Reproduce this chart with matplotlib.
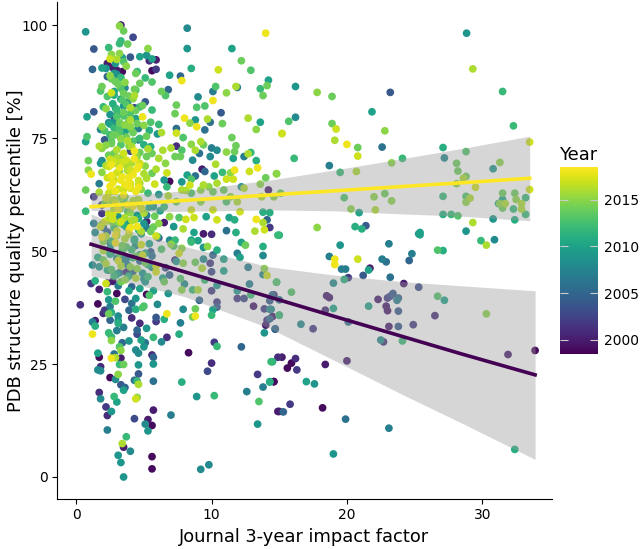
import numpy as np
import matplotlib
matplotlib.use('Agg')
import matplotlib.pyplot as plt
from matplotlib.cm import ScalarMappable
from matplotlib.colors import Normalize

impact = [
    28.84, 29.3, 31.5, 23.2, 17.8, 18.9, 16.2, 21.85, 16.2, 15.7,
    18.9, 19.2, 22.8, 15.2, 32.3, 19.1, 20.0, 20.8, 22.6, 20.8,
    27.1, 28.8, 33.5, 27.2, 16.1, 24.1, 18.7, 28.1, 31.3, 30.8,
    23.3, 19.5, 20.7, 14.8, 28.2, 28.8, 28.6, 28.1, 29.5, 33.5,
    31.5, 32.4, 22.8, 22.0, 19.8, 27.1, 28.8, 29.1, 28.8, 33.2,
    32.5, 31.5, 23.3, 31.2, 31.3, 31.7, 32.9, 31.5, 32.3, 32.9,
    20.3, 22.1, 20.9, 27.1, 27.7, 28.2, 33.2, 30.8, 32.4, 29.3,
    17.8, 20.6, 21.4, 21.1, 25.3, 25.4, 25.4, 28.8, 29.9, 30.9,
    30.3, 15.0, 19.5, 23.1, 26.7, 27.1, 18.7, 19.1, 19.1, 20.8,
    22.6, 22.9, 24.8, 24.6, 19.6, 19.9, 21.7, 21.6, 21.2, 20.1,
    19.8, 23.2, 19.0, 14.8, 24.2, 25.3, 15.9, 26.7, 27.2, 18.5,
    18.7, 22.3, 23.0, 23.4, 23.2, 23.8, 23.7, 14.5, 15.0, 21.6,
    19.0, 22.9, 23.0, 23.8, 26.5, 30.3, 18.4, 15.0, 14.4, 14.5,
    16.6, 17.5, 14.7, 20.1, 23.1, 23.8, 24.9, 24.1, 22.5, 22.7,
    31.9, 33.9, 20.0, 15.2, 16.2, 15.9, 15.6, 16.3, 18.4, 14.5,
    14.6, 14.3, 17.0, 17.6, 15.8, 15.0, 15.3, 18.2, 19.9, 23.1,
    19.0, 32.4, 0.3, 1.6, 1.1, 1.4, 2.2, 1.7, 2.3, 3.0,
    3.9, 3.3, 2.7, 4.7, 5.4, 5.2, 5.7, 6.8, 6.0, 4.4,
    4.1, 3.6, 2.4, 2.9, 2.5, 2.1, 2.0, 2.4, 2.6, 3.1,
    3.9, 4.4, 4.9, 5.0, 7.9, 8.8, 10.1, 10.4, 6.7, 6.5,
    5.9, 5.9, 7.7, 8.8, 8.6, 10.0, 1.2, 1.4, 1.4, 1.2,
    2.5, 3.1, 3.1, 4.1, 4.7, 3.5, 3.0, 2.4, 2.6, 2.6,
    5.2, 4.5, 4.5, 5.7, 6.7, 7.6, 6.3, 5.1, 4.8, 3.9,
    3.4, 5.0, 4.4, 4.6, 3.2, 3.3, 10.2, 10.4, 12.2, 8.3,
    1.6, 1.7, 2.8, 2.6, 2.9, 3.3, 5.6, 5.7, 5.7, 4.6,
    3.2, 3.5, 10.0, 9.7, 14.4, 14.9, 13.4, 1.8, 1.6, 1.8,
    3.1, 2.5, 2.9, 4.6, 4.3, 4.5, 4.6, 3.3, 3.6, 3.5,
    5.7, 7.8, 13.8, 14.3, 14.6, 12.6, 1.7, 1.8, 2.8, 3.0,
    4.5, 4.4, 8.9, 10.2, 13.5, 2.2, 2.6, 2.3, 5.7, 4.3,
    7.0, 5.3, 5.6, 5.1, 5.3, 2.3, 13.4, 14.9, 3.7, 3.4,
    3.5, 4.0, 3.1, 3.3, 5.6, 5.6, 3.5, 9.2, 9.8, 1.2,
    1.7, 2.0, 2.3, 2.6, 2.9, 3.7, 4.4, 4.9, 5.3, 5.9,
    6.5, 6.9, 7.3, 7.9, 8.8, 9.3, 10.0, 10.9, 8.0, 7.8,
    8.6, 9.0, 10.0, 9.5, 10.4, 9.1, 10.4, 11.9, 11.9, 12.4,
    12.9, 13.1, 12.8, 13.9, 14.1, 13.8, 12.7, 14.8, 14.6, 14.3,
    13.9, 14.3, 15.0, 14.1, 14.3, 14.0, 14.7, 13.9, 11.9, 12.1,
    13.8, 13.8, 12.2, 12.5, 9.7, 9.4, 10.4, 10.1, 10.9, 9.4,
    9.9, 8.5, 7.2, 7.6, 7.8, 0.7, 3.2, 3.3, 3.5, 4.2,
    8.2, 14.0, 1.3, 3.2, 3.8, 2.4, 8.2, 11.5, 3.3, 5.3,
    2.6, 2.5, 3.0, 3.4, 4.0, 4.7, 5.2, 5.4, 5.9, 5.6,
    3.5, 12.2, 2.3, 1.9, 1.2, 2.7, 3.0, 3.4, 3.7, 2.2,
    5.6, 5.9, 4.5, 4.4, 8.5, 10.5, 12.9, 2.8, 6.9, 7.7,
    7.8, 2.3, 2.5, 5.1, 4.7, 5.6, 2.9, 3.3, 1.9, 1.8,
    4.3, 3.6, 6.8, 6.3, 6.6, 10.3, 14.2, 11.8, 11.9, 14.1,
    13.6, 10.1, 11.1, 13.8, 2.6, 4.3, 9.0, 3.3, 2.8, 5.1,
    10.1, 2.0, 2.2, 1.3, 0.8, 3.7, 4.0, 4.7, 4.3, 5.6,
    7.4, 8.9, 9.5, 10.7, 7.3, 2.9, 2.8, 3.0, 3.5, 2.4,
    2.8, 4.0, 4.9, 4.5, 8.0, 8.8, 9.7, 9.9, 8.4, 8.9,
    10.8, 12.7, 13.6, 5.5, 6.1, 1.9, 1.8, 3.2, 4.0, 4.6,
    7.4, 9.5, 13.3, 6.0, 6.3, 7.4, 0.8, 0.7, 2.1, 2.9,
    4.2, 3.6, 2.5, 5.2, 4.6, 7.9, 11.5, 15.2, 3.8, 1.7,
    1.9, 2.6, 3.3, 5.0, 5.5, 4.1, 7.4, 7.0, 6.4, 8.5,
    9.2, 9.4, 11.8, 10.0, 10.4, 4.0, 2.8, 3.4, 1.9, 0.9,
    2.5, 4.5, 5.2, 5.6, 6.1, 7.8, 7.3, 7.7, 8.8, 9.1,
    8.6, 11.1, 11.7, 12.4, 12.7, 12.9, 13.3, 11.6, 9.9, 10.3,
    6.6, 1.8, 3.0, 3.7, 4.7, 0.9, 1.1, 1.9, 2.4, 2.6,
    3.2, 4.0, 4.6, 5.9, 6.7, 5.6, 5.2, 9.3, 9.5, 8.2,
    8.8, 7.8, 8.5, 10.2, 10.8, 11.4, 11.7, 12.8, 13.4, 14.0,
    14.8, 1.7, 2.8, 3.3, 3.9, 4.7, 5.8, 6.5, 6.9, 6.7,
    0.7, 8.4, 9.4, 10.4, 11.1, 11.6, 9.8, 1.3, 1.7, 2.6,
    3.5, 3.9, 4.6, 5.3, 6.1, 6.8, 7.8, 8.1, 8.5, 9.2,
    10.1, 10.9, 11.4, 11.9, 12.2, 12.4, 13.6, 14.2, 13.7, 14.6,
    15.1, 1.9, 2.8, 3.6, 4.5, 5.7, 6.5, 7.4, 8.5, 10.1,
    9.2, 11.1, 12.1, 13.8, 14.3, 0.7, 1.9, 6.9, 7.6, 8.7,
    8.1, 9.6, 10.4, 11.3, 11.7, 13.3, 14.1, 13.8, 14.3, 13.9,
    13.2, 14.9, 2.1, 3.3, 2.7, 1.3, 2.0, 1.4, 5.2, 6.1,
    6.5, 4.0, 4.5, 4.8, 5.9, 7.2, 7.9, 8.7, 9.4, 10.0,
    11.1, 11.8, 8.5, 9.0, 7.3, 6.9,
    2.1, 2.4, 2.8, 3.1, 3.4, 3.8, 4.2, 4.6, 5.0, 5.5,
    1.8, 2.3, 2.7, 3.0, 3.5, 3.9, 4.3, 4.8, 5.2, 5.8,
    2.0, 2.5, 2.9, 3.2, 3.6, 4.1, 4.4, 4.9, 5.4, 6.1,
    1.6, 2.2, 2.6, 3.1, 3.7, 4.0, 4.7, 5.1, 5.6, 6.3,
    1.9, 2.4, 3.0, 3.3, 3.8, 4.2, 4.5, 5.0, 5.3, 6.6,
    2.2, 2.7, 3.2, 3.5, 3.9, 4.6, 5.2, 5.7, 6.2, 7.0,
    2.0, 2.5, 2.9, 3.4, 3.7, 4.3, 4.8, 5.5, 6.0, 7.4,
    2.3, 2.8, 3.1, 3.6, 4.1, 4.4, 5.1, 5.9, 6.4, 7.7,
    2.3, 2.7, 3.0, 3.4, 3.8, 4.2, 4.6, 5.0, 2.5, 3.1,
    3.6, 4.0, 4.4, 4.8, 2.2, 2.8, 3.2, 3.7, 4.1, 4.5,
    5.1, 2.4, 3.0, 3.5, 3.9, 4.3, 4.7, 5.3, 2.6, 3.3,
    3.7, 4.2, 4.7, 2.1, 2.8, 3.2, 3.9, 4.4, 5.0, 5.4,
    2.5, 3.0, 3.5, 4.0, 4.4, 2.7, 3.4, 3.8, 4.2, 4.9,
    2.3, 2.8, 3.1, 3.6, 3.3, 2.6, 3.0, 3.5, 2.9, 3.2,
    2.4, 2.9, 3.3, 3.8, 4.2, 4.7, 2.7, 3.1, 3.6, 4.0,
    4.5, 5.0, 5.4, 2.2, 2.6, 3.0, 3.4, 3.9, 4.3, 4.8,
    2.6, 3.0, 3.4, 3.9, 4.3, 2.4, 2.9, 3.5, 4.0, 4.6,
    2.2, 2.7, 3.2, 3.6, 4.1, 2.5, 3.0, 3.5, 3.9, 4.4,
    1.9, 2.3, 2.8, 3.2, 3.7, 4.1, 4.6, 5.0, 5.5, 2.1,
    2.5, 3.0, 3.4, 3.8, 4.2, 4.7, 5.1, 5.6, 3.2, 3.9,
]
percentile = [
    98.2, 90.3, 85.3, 85.1, 85.1, 84.2, 86.4, 80.8, 79.6, 78.7,
    78.2, 77.0, 76.6, 76.0, 77.7, 74.5, 73.6, 72.9, 73.0, 71.0,
    72.9, 72.0, 74.1, 70.6, 70.5, 70.5, 68.9, 69.4, 69.6, 68.2,
    69.5, 67.4, 67.6, 67.1, 67.7, 66.5, 66.1, 64.9, 64.1, 63.6,
    62.8, 62.8, 62.7, 62.0, 61.8, 62.1, 62.1, 61.7, 60.8, 61.8,
    61.4, 61.4, 61.1, 60.5, 60.5, 60.5, 60.5, 59.5, 59.3, 59.3,
    59.3, 59.1, 58.5, 58.1, 58.1, 57.8, 58.1, 57.1, 56.9, 56.3,
    55.2, 55.4, 55.6, 54.9, 53.8, 54.1, 53.6, 54.4, 52.3, 52.5,
    51.3, 53.5, 51.3, 51.6, 50.2, 50.1, 48.8, 48.2, 47.0, 48.2,
    48.2, 47.6, 49.4, 47.9, 46.0, 46.0, 46.2, 45.8, 44.6, 44.1,
    43.7, 44.2, 42.9, 43.1, 42.8, 42.0, 40.9, 40.0, 39.1, 40.1,
    39.7, 39.3, 39.6, 40.6, 40.0, 39.6, 39.1, 40.3, 39.2, 37.8,
    37.3, 37.8, 36.8, 36.7, 35.7, 36.1, 36.9, 35.8, 37.1, 35.5,
    33.8, 32.8, 32.7, 34.3, 33.3, 33.3, 33.7, 30.1, 30.3, 29.9,
    27.1, 28.0, 25.7, 26.5, 26.2, 25.2, 24.1, 23.7, 24.9, 25.5,
    21.1, 21.1, 21.1, 20.6, 16.1, 14.5, 14.4, 15.3, 12.8, 10.8,
    5.1, 6.1, 38.1, 38.3, 42.8, 43.4, 42.8, 41.5, 41.0, 40.6,
    41.2, 43.2, 43.3, 41.7, 40.2, 40.4, 41.2, 40.6, 38.2, 39.5,
    38.4, 39.3, 39.2, 38.9, 37.7, 36.9, 36.2, 36.1, 36.4, 35.6,
    36.9, 37.1, 37.5, 37.8, 37.1, 37.2, 37.0, 37.6, 36.1, 34.9,
    35.3, 34.4, 34.1, 35.6, 35.4, 35.8, 34.3, 34.6, 33.4, 31.6,
    34.7, 34.6, 34.0, 35.2, 34.0, 33.1, 32.4, 31.9, 31.0, 30.2,
    32.9, 32.5, 31.6, 30.9, 30.9, 31.6, 29.9, 29.7, 30.3, 30.1,
    29.7, 28.8, 28.1, 27.4, 28.8, 28.0, 29.8, 28.9, 28.8, 27.5,
    27.4, 26.5, 27.2, 26.3, 26.4, 26.3, 27.0, 26.5, 25.0, 24.8,
    24.9, 24.9, 25.2, 23.4, 25.5, 26.5, 22.7, 24.4, 23.7, 23.5,
    22.7, 22.0, 21.6, 22.8, 21.4, 21.2, 20.5, 20.4, 19.8, 19.2,
    21.2, 21.0, 19.9, 21.0, 21.1, 18.9, 18.7, 17.3, 17.8, 16.6,
    17.6, 17.3, 17.8, 18.0, 16.7, 15.5, 14.5, 13.6, 14.8, 12.9,
    13.7, 12.7, 11.4, 11.7, 10.2, 10.4, 11.7, 14.5, 8.9, 7.4,
    6.6, 5.7, 4.8, 3.2, 4.5, 1.8, 0.0, 1.7, 2.7, 46.9,
    46.5, 48.0, 45.8, 45.9, 44.7, 45.3, 44.0, 45.1, 44.3, 45.4,
    43.2, 44.7, 48.0, 47.3, 47.5, 46.2, 45.4, 45.6, 42.7, 41.4,
    41.4, 41.4, 41.2, 43.6, 42.4, 39.1, 38.7, 41.2, 39.5, 39.5,
    40.3, 37.8, 42.7, 46.1, 44.6, 44.8, 46.4, 43.1, 40.3, 39.0,
    37.2, 37.1, 35.8, 34.7, 35.0, 33.6, 32.8, 31.9, 49.5, 48.6,
    49.0, 51.0, 51.9, 51.3, 51.0, 50.8, 50.2, 49.1, 48.2, 48.2,
    47.3, 52.0, 51.1, 49.5, 50.6, 98.5, 99.8, 100.0, 98.7, 97.3,
    99.3, 98.2, 94.7, 95.9, 95.8, 95.0, 94.8, 94.8, 96.5, 94.8,
    93.5, 92.5, 92.4, 92.8, 92.9, 93.0, 93.3, 92.1, 92.3, 92.5,
    91.9, 92.1, 91.5, 90.5, 90.2, 90.6, 90.0, 89.7, 90.9, 90.4,
    89.9, 90.2, 89.7, 89.3, 90.4, 90.1, 90.0, 89.3, 88.9, 88.7,
    87.7, 88.6, 88.8, 88.3, 87.1, 87.4, 87.5, 86.0, 86.4, 85.4,
    85.8, 86.1, 85.7, 85.3, 84.4, 86.4, 87.8, 86.4, 86.2, 86.6,
    85.9, 85.3, 85.0, 84.4, 85.0, 84.4, 84.1, 83.6, 84.5, 83.0,
    83.3, 81.9, 81.5, 80.8, 79.7, 82.5, 81.7, 81.9, 81.7, 81.2,
    82.3, 81.8, 82.1, 80.6, 80.4, 81.6, 79.7, 80.1, 79.9, 78.4,
    78.6, 79.0, 79.7, 78.2, 79.4, 79.0, 79.2, 78.5, 78.3, 77.5,
    78.2, 79.4, 78.5, 78.5, 78.0, 77.5, 76.9, 77.1, 77.5, 77.1,
    77.1, 76.8, 76.9, 75.9, 76.2, 76.1, 75.3, 74.2, 74.6, 75.7,
    76.2, 76.4, 75.7, 75.4, 74.6, 75.1, 75.1, 76.0, 74.4, 73.2,
    72.7, 73.8, 73.5, 73.5, 73.1, 73.1, 73.2, 72.8, 72.3, 73.6,
    74.2, 73.5, 73.3, 72.8, 72.3, 72.1, 71.6, 70.9, 70.0, 70.0,
    70.3, 70.9, 70.9, 71.6, 70.5, 72.3, 70.9, 70.9, 72.3, 71.6,
    70.1, 71.9, 72.0, 70.9, 71.5, 71.8, 70.0, 70.5, 70.9, 69.2,
    69.4, 69.4, 69.4, 69.0, 69.4, 67.9, 67.0, 67.4, 68.7, 66.7,
    67.7, 67.9, 68.7, 68.1, 67.3, 67.2, 66.1, 68.1, 67.6, 66.8,
    66.6, 65.3, 65.9, 66.6, 67.4, 67.3, 67.9, 67.6, 68.4, 66.2,
    67.1, 64.9, 65.7, 65.7, 65.3, 65.0, 64.8, 65.7, 65.4, 64.2,
    63.5, 64.6, 64.6, 65.0, 65.9, 65.9, 64.2, 62.0, 63.0, 63.2,
    63.6, 64.2, 64.6, 62.8, 62.5, 62.2, 63.5, 63.4, 62.8, 63.5,
    63.1, 63.5, 62.0, 60.9, 64.2, 63.9, 64.8, 63.5, 62.0, 62.0,
    62.8, 60.2, 61.3, 62.0, 61.3, 59.8, 59.8, 60.9, 59.1, 59.1,
    60.9, 60.9, 58.7, 58.6, 58.5, 58.8, 58.3, 57.6, 57.4, 57.4,
    57.0, 57.6, 56.9, 57.4, 56.9, 57.0, 56.9, 56.3, 55.2, 54.7,
    54.4, 53.5, 56.5, 56.5, 57.0, 56.1, 55.2, 54.1, 56.5, 56.1,
    56.3, 55.2, 55.4, 54.3, 53.3, 55.4, 54.9, 54.1, 53.8, 53.7,
    54.5, 54.1, 52.4, 52.3, 52.4, 52.4,
    60.5, 58.2, 59.4, 57.6, 60.1, 58.8, 59.9, 57.2, 58.4, 60.3,
    55.4, 54.2, 56.3, 53.4, 55.8, 54.6, 56.9, 53.8, 55.1, 57.7,
    52.1, 50.6, 51.8, 49.4, 52.7, 50.3, 51.2, 49.1, 51.6, 52.9,
    48.6, 47.2, 49.7, 47.9, 48.3, 46.5, 49.2, 47.4, 48.9, 50.4,
    53.1, 45.8, 44.9, 46.7, 44.2, 45.5, 46.1, 43.8, 47.0, 46.3,
    61.7, 60.8, 59.2, 61.2, 56.1, 61.4, 57.9, 55.3, 58.9, 51.5,
    50.1, 51.9, 53.5, 48.1, 50.9, 52.3, 59.6, 49.8, 53.2, 47.7,
    42.9, 44.5, 42.3, 43.6, 42.1, 48.8, 43.2, 46.6, 44.0, 43.9,
    66.2, 65.1, 67.3, 66.4, 67.8, 66.9, 65.6, 67.1, 64.3, 63.7,
    64.7, 63.9, 63.2, 63.6, 68.9, 69.8, 68.4, 70.1, 69.5, 68.2,
    68.8, 71.2, 72.4, 71.6, 73.2, 72.1, 71.8, 72.6, 74.2, 74.8,
    75.2, 74.3, 74.9, 76.6, 77.2, 78.4, 78.9, 79.3, 77.8, 76.7,
    80.2, 81.3, 80.7, 80.4, 81.1, 82.6, 83.4, 82.9, 83.7, 82.2,
    84.2, 85.3, 86.9, 87.3, 88.4, 88.1, 89.1, 84.9, 91.5, 93.7,
    61.4, 60.6, 61.8, 60.2, 61.1, 60.4, 58.1, 59.2, 57.4, 58.5,
    57.9, 58.6, 59.7, 53.3, 52.2, 54.4, 51.2, 53.7, 52.6, 51.4,
    69.1, 70.6, 69.7, 66.3, 70.4, 62.8, 63.2, 62.4, 64.9, 64.1,
    73.4, 75.6, 76.2, 77.9, 76.8, 78.1, 79.8, 82.1, 84.3, 85.6,
    55.9, 56.7, 55.1, 56.2, 55.3, 56.8, 54.7, 56.1, 54.3, 50.2,
    49.3, 48.4, 50.1, 46.9, 48.5, 47.8, 49.5, 46.4, 45.2, 44.6,
]
year = [
    2009, 2016, 2012, 2004, 2015, 2014, 2009, 2010, 2008, 2013,
    2014, 2017, 2015, 2017, 2012, 2016, 2018, 2014, 2006, 2017,
    2011, 2013, 2017, 2008, 2012, 2012, 2007, 2014, 2015, 2009,
    2015, 2012, 2016, 2015, 2014, 2014, 2016, 2015, 2017, 2017,
    2014, 2014, 2014, 2015, 2013, 2012, 2013, 2016, 2015, 2012,
    2015, 2010, 2015, 2011, 2015, 2016, 2016, 2014, 2012, 2016,
    2015, 2016, 2010, 2011, 2012, 2013, 2012, 2009, 2011, 2016,
    2015, 2011, 2004, 2011, 2009, 2010, 2010, 2009, 2012, 2008,
    2016, 2011, 2009, 2007, 2013, 2011, 2007, 2018, 2018, 2017,
    2007, 2006, 2007, 2005, 2007, 2007, 2000, 2010, 2004, 2002,
    2011, 2006, 2008, 2011, 2000, 2003, 2013, 2013, 2010, 2000,
    2000, 2000, 2002, 2004, 2003, 2005, 2007, 2005, 2006, 2010,
    2010, 2000, 2000, 2004, 2001, 2015, 2001, 2012, 2008, 2000,
    2008, 2002, 2004, 2006, 2000, 2004, 2002, 2012, 2008, 2001,
    2000, 1999, 2000, 2000, 2001, 1999, 1999, 2002, 2000, 2011,
    1999, 2010, 2010, 2009, 2002, 2000, 2005, 1999, 2006, 2007,
    2009, 2011, 2001, 1999, 2002, 2011, 2017, 2000, 2012, 1999,
    2010, 2014, 2000, 2010, 2013, 1999, 2010, 2009, 2008, 2009,
    2006, 2003, 2009, 2013, 2007, 2002, 2001, 2014, 2011, 2008,
    2005, 2011, 2013, 2013, 2008, 2014, 2010, 2004, 2018, 2011,
    2004, 2002, 2007, 2018, 2014, 2012, 2007, 2000, 2011, 2018,
    2005, 2009, 2011, 2001, 2001, 2007, 2007, 2012, 2012, 2015,
    2009, 2005, 2003, 2012, 2001, 2011, 2008, 2006, 2010, 2009,
    2005, 2009, 2008, 2008, 2013, 2015, 2002, 2012, 2005, 1999,
    2010, 1999, 2006, 2018, 2016, 2000, 2001, 2005, 2009, 2009,
    2012, 2014, 2001, 2003, 2012, 2001, 2002, 2001, 2008, 2008,
    2015, 1999, 2008, 2004, 2006, 2012, 2016, 2004, 2005, 2010,
    2006, 2011, 2007, 2011, 1999, 2007, 2001, 2008, 2012, 2010,
    2015, 2017, 2009, 2012, 2013, 2002, 2009, 2001, 2000, 2003,
    2007, 2000, 1999, 2008, 2009, 2007, 2009, 2000, 2012, 2016,
    2000, 2008, 2009, 2009, 1999, 1999, 2009, 2008, 2008, 2008,
    2009, 2014, 2011, 2013, 2005, 2001, 2016, 2009, 2012, 2017,
    2014, 2005, 2001, 2015, 2014, 2016, 2003, 2010, 2008, 2015,
    2012, 2016, 2002, 2012, 2009, 2005, 2002, 2009, 2002, 2003,
    2012, 2000, 2007, 2015, 2017, 2008, 2007, 2013, 2000, 2004,
    2002, 2008, 2012, 2001, 2005, 2000, 2005, 2009, 2007, 2010,
    2008, 2011, 2010, 2014, 2015, 2009, 2011, 2005, 2010, 2008,
    2002, 2012, 2013, 2017, 2015, 2009, 2015, 2000, 2014, 2003,
    2008, 2018, 2004, 2012, 2014, 2012, 2009, 2010, 2012, 2015,
    2015, 2017, 2016, 2010, 2004, 2010, 2009, 2001, 2000, 2010,
    2013, 2014, 2000, 2010, 2005, 2000, 2000, 1999, 2015, 2009,
    1999, 2002, 2012, 2014, 2011, 2017, 2013, 2009, 2010, 2005,
    2018, 2005, 2015, 2012, 2014, 2013, 2014, 2013, 2014, 2013,
    2014, 2008, 2005, 2014, 2013, 2013, 2010, 2016, 2007, 2014,
    2012, 2007, 2015, 2014, 2017, 2016, 2008, 2010, 2011, 2004,
    2018, 2012, 2015, 2004, 2010, 2013, 2016, 2012, 2003, 2012,
    2014, 2013, 2013, 2004, 2014, 2011, 2001, 2008, 2013, 2008,
    2008, 2016, 2018, 2014, 2018, 2009, 2016, 2006, 2015, 2018,
    2014, 2016, 2010, 2013, 2012, 2015, 2008, 2013, 2015, 2007,
    2006, 2006, 2015, 2009, 2016, 2017, 2013, 2010, 2004, 2014,
    2014, 2010, 2012, 2014, 2007, 2013, 2014, 2017, 2016, 2016,
    2015, 2014, 2013, 2011, 2011, 2016, 2001, 2016, 2016, 2015,
    2016, 2014, 2014, 2007, 2008, 2003, 2014, 2015, 2008, 2014,
    2017, 2015, 2014, 2014, 2016, 2013, 2014, 2014, 2016, 2006,
    2008, 2015, 2014, 2007, 2016, 2012, 2011, 2010, 2008, 2016,
    2015, 2009, 2015, 2016, 2017, 2015, 2018, 2015, 2017, 2018,
    2015, 2017, 2018, 2016, 2017, 2014, 2016, 2000, 2005, 2010,
    2006, 2009, 2013, 2010, 2012, 2015, 2018, 2017, 2018, 2014,
    2015, 2007, 2017, 2018, 2018, 2016, 2017, 2009, 1999, 2012,
    2014, 2017, 2016, 2016, 2017, 2017, 2015, 2002, 2016, 2017,
    2017, 2018, 2017, 2012, 2009, 2016, 2016, 2016, 2013, 2015,
    2014, 2014, 2015, 2016, 2009, 2016, 2015, 2000, 2016, 2015,
    2014, 2002, 2016, 2014, 2015, 2009, 2012, 2014, 2017, 2017,
    2015, 2013, 2017, 2011, 2011, 2012, 2002, 2015, 2013, 2017,
    2017, 2010, 2017, 2010, 2011, 2018, 2005, 2016, 2002, 2017,
    2016, 2012, 2017, 2017, 2017, 2007, 2005, 2008, 2000, 2015,
    2000, 2018, 2018, 2016, 2017, 2009, 2016, 2010, 2000, 2001,
    2006, 2011, 2010, 2010, 2012, 2008,
    2014, 2017, 2016, 2009, 2015, 2013, 2018, 2011, 2016, 2008,
    2017, 2005, 2014, 2015, 2011, 2018, 2016, 2010, 2007, 2014,
    2015, 2009, 2018, 2013, 2016, 2012, 2008, 2017, 2010, 2004,
    2011, 2016, 2003, 2017, 2007, 2015, 2012, 2014, 2006, 2013,
    2018, 2002, 2010, 2016, 2012, 2005, 2015, 2009, 2011, 2003,
    2017, 2012, 2015, 2013, 2009, 2016, 2007, 2014, 2010, 2015,
    2016, 2006, 2018, 2008, 2013, 2011, 2017, 2004, 2012, 2009,
    2001, 2012, 2007, 2015, 2005, 2014, 2009, 2017, 2010, 2013,
    2017, 2018, 2017, 2018, 2016, 2018, 2017, 2016, 2018, 2017,
    2018, 2017, 2018, 2015, 2016, 2017, 2018, 2017, 2016, 2018,
    2015, 2014, 2016, 2017, 2015, 2018, 2014, 2016, 2013, 2015,
    2014, 2013, 2012, 2013, 2012, 2014, 2013, 2010, 2015, 2011,
    2009, 2012, 2014, 2013, 2014, 2011, 2013, 2008, 2015, 2014,
    2013, 2010, 2014, 2015, 2012, 2014, 2008, 2014, 2009, 2015,
    2016, 2017, 2015, 2018, 2016, 2014, 2017, 2018, 2016, 2015,
    2009, 2012, 2010, 2016, 2012, 2017, 2014, 2016, 2010, 2017,
    2018, 2016, 2017, 2018, 2018, 2017, 2018, 2018, 2017, 2018,
    2015, 2014, 2013, 2015, 2012, 2010, 2013, 2009, 2014, 2013,
    2014, 2016, 2012, 2015, 2010, 2016, 2012, 2009, 2014, 2009,
    2011, 2008, 2013, 2007, 2012, 2005, 2010, 2008, 2006, 2009,
]

# regression lines and their confidence ribbons, read at a few x positions
fit_new_x = [1.1, 4.0, 8.0, 14.3, 19.0, 24.2, 28.5, 33.5]
fit_new_y = [59.8, 60.4, 61.2, 62.4, 63.3, 64.3, 65.1, 66.1]
fit_new_hi = [62.9, 62.5, 63.3, 65.7, 67.9, 70.5, 72.7, 75.4]
fit_new_lo = [59.0, 58.6, 58.8, 59.1, 58.9, 58.2, 57.7, 56.7]

fit_old_x = [1.1, 4.0, 8.0, 14.3, 19.0, 24.2, 28.5, 33.9]
fit_old_y = [51.5, 48.9, 45.4, 39.8, 35.6, 31.0, 27.2, 22.6]
fit_old_hi = [58.2, 54.5, 51.0, 46.5, 44.7, 43.2, 42.3, 41.2]
fit_old_lo = [44.5, 42.9, 39.9, 32.9, 25.9, 18.1, 11.9, 3.9]

year_ticks = [2000, 2005, 2010, 2015]

assert len(impact) == len(percentile) == len(year), (len(impact), len(percentile), len(year))
order = np.argsort(np.array(year), kind='stable')
xs = np.array(impact)[order]
ys = np.array(percentile)[order]
cs = np.array(year)[order]

fig = plt.figure(figsize=(6.4, 5.49), dpi=100)
ax = fig.add_axes([57 / 640, 1 - 499 / 549, (552 - 57) / 640, (499 - 2) / 549])
norm = Normalize(1998.5, 2018.5)

ax.scatter(xs, ys, c=cs, cmap='viridis', norm=norm, s=31, linewidths=0, zorder=2)

ax.fill_between(fit_old_x, fit_old_lo, fit_old_hi, color='#999999', alpha=0.4, lw=0, zorder=3)
ax.plot(fit_old_x, fit_old_y, color='#440154', lw=2.6, zorder=4)
ax.fill_between(fit_new_x, fit_new_lo, fit_new_hi, color='#999999', alpha=0.4, lw=0, zorder=3)
ax.plot(fit_new_x, fit_new_y, color='#FDE725', lw=2.6, zorder=4)

ax.set_xlim(-1.42, 35.15)
ax.set_ylim(-4.87, 105.1)
ax.set_xticks([0, 10, 20, 30])
ax.set_yticks([0, 25, 50, 75, 100])
ax.tick_params(labelsize=10, length=3.5, width=0.8, pad=3)
ax.spines['top'].set_visible(False)
ax.spines['right'].set_visible(False)
ax.set_xlabel('Journal 3-year impact factor', fontsize=12.9, labelpad=4)
ax.set_ylabel('PDB structure quality percentile [%]', fontsize=12.9, labelpad=-2.5)

cax = fig.add_axes([560 / 640, 1 - 354 / 549, 38 / 640, 187 / 549])
cb = fig.colorbar(ScalarMappable(norm=norm, cmap='viridis'), cax=cax)
cb.outline.set_visible(False)
cb.set_ticks(year_ticks)
cb.ax.tick_params(length=0, labelsize=10, pad=4)
for t in year_ticks:
    cax.hlines(t, 0, 0.2, color='#cccccc', lw=0.8)
    cax.hlines(t, 0.8, 1, color='#cccccc', lw=0.8)
fig.text(560 / 640, 1 - 155 / 549, 'Year', fontsize=12.9, va='center', ha='left')

fig.savefig('out.png', dpi=100)
